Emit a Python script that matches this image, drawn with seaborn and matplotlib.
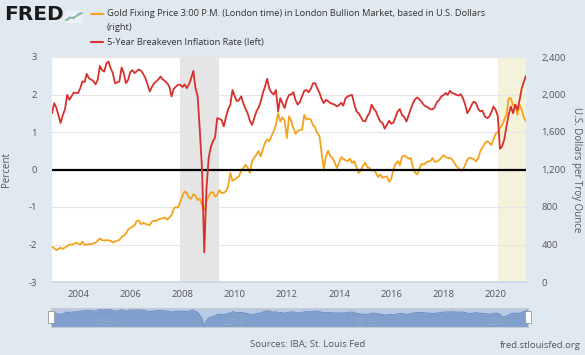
import pandas as pd
import seaborn as sns
from matplotlib import pyplot as plt
from matplotlib.lines import Line2D
from matplotlib.patches import Rectangle

# monthly values, Jan 2003 .. Mar 2021
breakeven = [
    1.50, 1.77, 1.66, 1.45, 1.24, 1.45, 1.60, 1.99, 1.86, 1.95, 2.05, 2.04,
    2.04, 2.17, 2.35, 2.33, 2.55, 2.43, 2.40, 2.36, 2.27, 2.39, 2.76, 2.65,
    2.61, 2.83, 2.88, 2.70, 2.57, 2.30, 2.32, 2.35, 2.72, 2.57, 2.30, 2.39,
    2.60, 2.65, 2.57, 2.62, 2.67, 2.63, 2.55, 2.43, 2.26, 2.08, 2.21, 2.30,
    2.35, 2.41, 2.48, 2.40, 2.36, 2.30, 2.21, 1.95, 2.15, 2.21, 2.26, 2.26,
    2.20, 2.27, 2.17, 2.27, 2.43, 2.63, 2.17, 1.95, 1.00, 0.00, -2.21, -0.55,
    0.30, 0.60, 0.75, 0.85, 1.37, 1.35, 1.32, 1.15, 1.40, 1.60, 1.73, 2.12,
    1.95, 1.82, 1.85, 1.95, 1.77, 1.62, 1.50, 1.30, 1.19, 1.37, 1.55, 1.65,
    1.81, 2.05, 2.21, 2.42, 2.15, 2.05, 2.00, 2.12, 1.55, 1.90, 1.77, 1.64,
    1.86, 1.99, 2.00, 2.06, 1.85, 1.73, 1.80, 1.95, 2.10, 2.12, 2.06, 2.15,
    2.30, 2.30, 2.17, 2.05, 1.88, 1.77, 1.86, 1.82, 1.77, 1.75, 1.73, 1.68,
    1.72, 1.78, 1.70, 1.90, 1.95, 1.97, 1.99, 1.75, 1.55, 1.50, 1.40, 1.30,
    1.28, 1.42, 1.50, 1.73, 1.62, 1.55, 1.40, 1.28, 1.24, 1.09, 1.19, 1.30,
    1.22, 1.25, 1.40, 1.55, 1.61, 1.45, 1.40, 1.28, 1.45, 1.62, 1.77, 1.88,
    1.92, 1.86, 1.81, 1.72, 1.68, 1.65, 1.61, 1.60, 1.66, 1.80, 1.85, 1.95,
    1.98, 2.04, 1.99, 2.10, 2.04, 2.02, 1.99, 1.97, 2.01, 1.90, 1.73, 1.50,
    1.60, 1.73, 1.81, 1.77, 1.62, 1.55, 1.57, 1.42, 1.37, 1.40, 1.52, 1.68,
    1.59, 1.42, 0.55, 0.62, 0.80, 1.15, 1.46, 1.68, 1.50, 1.73, 1.59, 1.85,
    2.17, 2.35, 2.50,
]
gold = [
    376, 360, 340, 352, 368, 352, 368, 384, 396, 400, 404, 420,
    412, 396, 432, 396, 400, 404, 404, 412, 420, 440, 464, 448,
    440, 448, 444, 440, 420, 432, 440, 448, 480, 492, 516, 560,
    576, 592, 604, 652, 656, 616, 632, 620, 612, 608, 648, 652,
    652, 668, 676, 680, 688, 664, 688, 712, 784, 800, 792, 856,
    920, 968, 952, 900, 888, 936, 920, 872, 888, 820, 768, 860,
    912, 952, 960, 912, 928, 980, 948, 952, 968, 1020, 1164, 1080,
    1092, 1112, 1128, 1184, 1216, 1252, 1220, 1164, 1288, 1324, 1360, 1396,
    1340, 1420, 1484, 1520, 1500, 1560, 1608, 1676, 1800, 1712, 1756, 1720,
    1536, 1768, 1720, 1644, 1580, 1608, 1624, 1624, 1784, 1732, 1744, 1732,
    1672, 1648, 1588, 1560, 1380, 1200, 1340, 1400, 1340, 1324, 1272, 1216,
    1272, 1332, 1312, 1300, 1288, 1316, 1272, 1288, 1224, 1164, 1192, 1240,
    1272, 1224, 1216, 1188, 1196, 1164, 1120, 1148, 1112, 1120, 1128, 1068,
    1100, 1200, 1260, 1288, 1248, 1340, 1348, 1332, 1316, 1324, 1216, 1164,
    1148, 1216, 1260, 1252, 1272, 1288, 1288, 1324, 1280, 1288, 1300, 1324,
    1352, 1332, 1324, 1324, 1308, 1272, 1236, 1212, 1188, 1200, 1248, 1308,
    1324, 1320, 1308, 1288, 1316, 1396, 1432, 1480, 1500, 1492, 1460, 1520,
    1580, 1600, 1640, 1676, 1732, 1784, 1960, 1960, 1880, 1892, 1784, 1892,
    1836, 1748, 1712,
]
start_month = "2003-01-01"
recessions = [("2007-12-01", "2009-06-01"), ("2020-02-01", "2021-03-01")]
recession_colors = ["#e5e5e5", "#f4f2da"]
year_ticks = list(range(2004, 2021, 2))
nav_years = [2005, 2010, 2015, 2020]
left_ticks = [-3, -2, -1, 0, 1, 2, 3]
right_ticks = [0, 400, 800, 1200, 1600, 2000, 2400]

gold_label = "Gold Fixing Price 3:00 P.M. (London time) in London Bullion Market, based in U.S. Dollars"
red_label = "5-Year Breakeven Inflation Rate (left)"

BG = "#e1e9f0"
GOLD = "#f5a31c"
RED = "#d8302c"
TXT = "#555555"

dates = pd.date_range(start_month, periods=len(breakeven), freq="MS")
df = pd.DataFrame({"date": dates, "breakeven": breakeven, "gold": gold})

sns.set_theme(style="white")
plt.rcParams["font.family"] = ["Open Sans", "DejaVu Sans"]

W, H = 585, 355
fig = plt.figure(figsize=(W / 100, H / 100), dpi=100, facecolor=BG)
ax = fig.add_axes([52 / W, 1 - 282 / H, 474 / W, 225 / H])
ax.set_facecolor("white")
ax2 = ax.twinx()

# recession shading
for (s, e), c in zip(recessions, recession_colors):
    ax.axvspan(pd.Timestamp(s), pd.Timestamp(e), color=c, lw=0, zorder=0)

# gold on right axis (primary axes), breakeven on left axis (twin, drawn on top)
sns.lineplot(data=df, x="date", y="gold", ax=ax, color=GOLD, lw=1.3, legend=False)
sns.lineplot(data=df, x="date", y="breakeven", ax=ax2, color=RED, lw=1.3, legend=False)
ax2.axhline(0, color="black", lw=1.6, zorder=1)

ax.set_ylim(0, 2400)
ax2.set_ylim(-3, 3)
ax.set_xlim(dates[0], dates[-1])

ax.set_yticks(right_ticks)
ax.set_yticklabels([f"{v:,}" for v in right_ticks])
ax2.set_yticks(left_ticks)
ax2.set_yticklabels([str(v) for v in left_ticks])
ax.yaxis.tick_right()
ax.yaxis.set_label_position("right")
ax2.yaxis.tick_left()
ax2.yaxis.set_label_position("left")

ax.grid(axis="y", color="#e6e6e6", lw=0.8)
ax.set_axisbelow(True)

ax.set_xticks([pd.Timestamp(f"{y}-01-01") for y in year_ticks])
ax.set_xticklabels([str(y) for y in year_ticks])

for a in (ax, ax2):
    for sp in a.spines.values():
        sp.set_visible(False)
ax.spines["bottom"].set_visible(True)
ax.spines["bottom"].set_color("#ccd6eb")

ax.tick_params(axis="x", length=4, color="#ccd6eb", labelsize=6.8, labelcolor=TXT, pad=2)
ax.tick_params(axis="y", length=0, labelsize=6.8, labelcolor=TXT, pad=11)
ax2.tick_params(axis="y", length=0, labelsize=6.8, labelcolor=TXT, pad=11)

ax.set_xlabel("")
ax.set_ylabel("U.S. Dollars per Troy Ounce", fontsize=7, color=TXT, rotation=270, labelpad=12)
ax2.set_ylabel("Percent", fontsize=7, color=TXT, labelpad=12)

# FRED logo and legend
fig.text(4 / W, 1 - 15 / H, "FRED", fontsize=14.5, fontweight="heavy", color="#1a1a1a",
         va="center", ha="left", family="DejaVu Sans")
icon = fig.add_axes([65 / W, 1 - 23 / H, 18 / W, 12 / H])
icon.set_facecolor("#eef2f6")
icon.set_xticks([])
icon.set_yticks([])
for sp in icon.spines.values():
    sp.set_visible(False)
icon.plot([0, 1, 2, 3, 4], [0.5, 1.5, 1.0, 2.6, 3.0], color="#6f9fd0", lw=0.8)
icon.plot([0, 1, 2, 3, 4], [0.2, 0.9, 1.6, 1.9, 2.7], color="#8cc26b", lw=0.8)
icon.set_ylim(-0.5, 3.5)

fig.add_artist(Line2D([91 / W, 103 / W], [1 - 14 / H] * 2, color=GOLD, lw=1.5, transform=fig.transFigure))
fig.add_artist(Line2D([91 / W, 103 / W], [1 - 42 / H] * 2, color=RED, lw=1.5, transform=fig.transFigure))
fig.text(107 / W, 1 - 14 / H, gold_label, fontsize=6.7, color="#333333", va="center")
fig.text(107 / W, 1 - 28 / H, "(right)", fontsize=6.7, color="#333333", va="center")
fig.text(107 / W, 1 - 42 / H, red_label, fontsize=6.7, color="#333333", va="center")

# navigator strip
nav = fig.add_axes([51 / W, 1 - 327 / H, 477 / W, 19 / H])
nav.set_facecolor("#b9c9e3")
nav.fill_between(df["date"], df["breakeven"], -3, color="#809fcd", lw=0)
sns.lineplot(data=df, x="date", y="breakeven", ax=nav, color="#6a8cc4", lw=0.7, legend=False)
nav.set_xlim(dates[0], dates[-1])
nav.set_ylim(-2.4, 3.2)
nav.set_xticks([])
nav.set_yticks([])
nav.set_xlabel("")
nav.set_ylabel("")
for sp in nav.spines.values():
    sp.set_color("#c6ccd4")
    sp.set_linewidth(0.8)
for y in nav_years:
    nav.text(pd.Timestamp(f"{y}-01-01"), -1.2, str(y), fontsize=6.5, color="#93a9cf",
             ha="center", va="center")
for xf in (51 / W, 528 / W):
    fig.add_artist(Rectangle((xf - 3 / W, 1 - 323 / H), 6 / W, 12 / H, transform=fig.transFigure,
                             facecolor="white", edgecolor="#999999", lw=0.6))

fig.text(308 / W, 1 - 345 / H, "Sources: IBA; St. Louis Fed", fontsize=6.8, color=TXT, ha="center", va="center")
fig.text(581 / W, 1 - 345 / H, "fred.stlouisfed.org", fontsize=6.8, color=TXT, ha="right", va="center")

fig.savefig("out.png", dpi=100, facecolor=BG)
